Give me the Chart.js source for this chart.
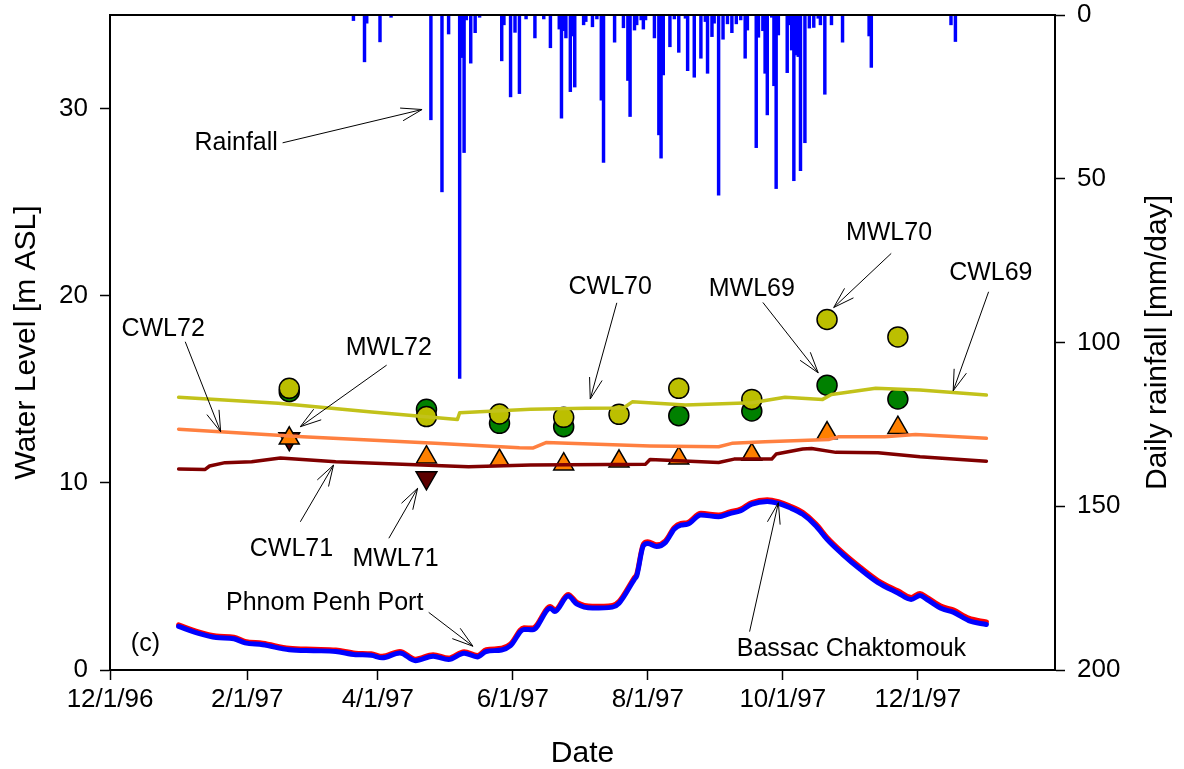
<!DOCTYPE html>
<html>
<head>
<meta charset="utf-8">
<script src="https://cdn.jsdelivr.net/npm/chart.js@4.4.1/dist/chart.umd.min.js"></script>
<style>
  html, body { margin: 0; padding: 0; background: #fff; }
  #wrap { width: 1184px; height: 769px; position: relative; }
</style>
</head>
<body>
<div id="wrap"><canvas id="chart" width="1184" height="769"></canvas></div>
<script>
// ---- Axis ticks -------------------------------------------------------
const tickDates  = ['1996-12-01', '1997-02-01', '1997-04-01', '1997-06-01', '1997-08-01', '1997-10-01', '1997-12-01'];
const tickLabels = ['12/1/96', '2/1/97', '4/1/97', '6/1/97', '8/1/97', '10/1/97', '12/1/97'];
const levelTicks = [0, 10, 20, 30];
const rainTicks  = [0, 50, 100, 150, 200];

// ---- Daily rainfall [mm/day] -----------------------------------------
const rainDates = [
  '1997-03-21','1997-03-26','1997-03-27','1997-04-02','1997-04-07','1997-04-25','1997-04-30','1997-05-03',
  '1997-05-08','1997-05-09','1997-05-10','1997-05-11','1997-05-13','1997-05-15','1997-05-17','1997-05-27',
  '1997-05-28','1997-05-31','1997-06-02','1997-06-04','1997-06-07','1997-06-11','1997-06-15','1997-06-18',
  '1997-06-22','1997-06-23','1997-06-24','1997-06-25','1997-06-27','1997-06-28','1997-06-29','1997-07-03',
  '1997-07-04','1997-07-07','1997-07-09','1997-07-11','1997-07-12','1997-07-17','1997-07-21','1997-07-23',
  '1997-07-24','1997-07-26','1997-07-27','1997-07-29','1997-07-30','1997-07-31','1997-08-04','1997-08-06',
  '1997-08-07','1997-08-08','1997-08-11','1997-08-13','1997-08-15','1997-08-18','1997-08-19','1997-08-22',
  '1997-08-25','1997-08-27','1997-08-28','1997-08-30','1997-08-31','1997-09-02','1997-09-04','1997-09-06',
  '1997-09-08','1997-09-10','1997-09-12','1997-09-14','1997-09-15','1997-09-19','1997-09-20','1997-09-22',
  '1997-09-23','1997-09-24','1997-09-26','1997-09-27','1997-09-28','1997-09-29','1997-10-03','1997-10-04',
  '1997-10-05','1997-10-06','1997-10-07','1997-10-08','1997-10-09','1997-10-11','1997-10-13','1997-10-15',
  '1997-10-17','1997-10-18','1997-10-20','1997-10-23','1997-10-28','1997-11-09','1997-11-10','1997-12-16',
  '1997-12-18'
];
const rainMm = [
  1.7, 14.3, 2.5, 8.2, 0.7, 32, 54, 5.8,
  111, 13, 42, 1.5, 14.7, 5.4, 0.7, 14,
  3, 25, 5.3, 24, 1.2, 7, 1.2, 10,
  4.3, 31.5, 4.8, 7, 23.4, 6.4, 22, 3,
  2, 3.6, 1.2, 26, 45, 8.3, 3.9, 20,
  31, 4.6, 3, 1.5, 4.3, 1.5, 7, 36.6,
  43.7, 18.3, 9.7, 1.2, 11.4, 1, 17, 19,
  13.2, 2, 17.8, 6.6, 2.5, 55, 7.4, 2.7,
  5.4, 2.7, 1.5, 13.2, 4.6, 40.5, 6.8, 4.8,
  17.8, 30.5, 0.7, 21.6, 53, 6.1, 17.6, 3,
  10.7, 50.6, 12.2, 12.7, 47.5, 39, 4, 3.8,
  1, 3, 24.2, 3, 8.3, 6.4, 16, 3,
  8.1
];

// ---- River stage [m ASL] ---------------------------------------------
const stageDates = [
  '1997-01-01','1997-01-10','1997-01-18','1997-01-26','1997-01-31','1997-02-08','1997-02-20','1997-03-03',
  '1997-03-13','1997-03-22','1997-03-29','1997-04-03','1997-04-11','1997-04-18','1997-04-26','1997-05-03',
  '1997-05-10','1997-05-16','1997-05-20','1997-05-27','1997-05-31','1997-06-06','1997-06-10','1997-06-18',
  '1997-06-20','1997-06-26','1997-06-30','1997-07-07','1997-07-16','1997-07-19','1997-07-26','1997-07-27',
  '1997-07-30','1997-08-01','1997-08-05','1997-08-09','1997-08-13','1997-08-16','1997-08-19','1997-08-25',
  '1997-09-02','1997-09-07','1997-09-12','1997-09-17','1997-09-24','1997-09-29','1997-10-04','1997-10-10',
  '1997-10-16','1997-10-21','1997-10-28','1997-11-05','1997-11-13','1997-11-22','1997-11-28','1997-12-02',
  '1997-12-05','1997-12-12','1997-12-17','1997-12-24','1998-01-01'
];
const bassacLevel = [
  2.33, 1.96, 1.74, 1.67, 1.45, 1.35, 1.08, 1.03,
  0.99, 0.82, 0.79, 0.65, 0.91, 0.50, 0.74, 0.56,
  0.90, 0.70, 0.99, 1.07, 1.30, 2.17, 2.15, 3.30,
  3.12, 3.95, 3.52, 3.31, 3.36, 3.57, 4.86, 5.03,
  6.64, 6.76, 6.60, 6.82, 7.53, 7.74, 7.79, 8.28,
  8.19, 8.36, 8.51, 8.86, 9.01, 8.90, 8.68, 8.32,
  7.70, 6.98, 6.18, 5.38, 4.67, 4.12, 3.77, 3.98,
  3.78, 3.27, 3.09, 2.64, 2.43
];
const portLevel = [
  2.41, 2.04, 1.82, 1.75, 1.53, 1.43, 1.16, 1.11,
  1.07, 0.90, 0.87, 0.73, 0.99, 0.58, 0.82, 0.64,
  0.98, 0.78, 1.08, 1.16, 1.39, 2.26, 2.24, 3.39,
  3.21, 4.04, 3.61, 3.40, 3.45, 3.66, 4.95, 5.12,
  6.73, 6.85, 6.69, 6.91, 7.62, 7.83, 7.88, 8.37,
  8.28, 8.45, 8.60, 8.95, 9.10, 8.99, 8.77, 8.42,
  7.80, 7.08, 6.28, 5.49, 4.78, 4.23, 3.88, 4.09,
  3.89, 3.39, 3.21, 2.77, 2.57
];

// ---- Computed water levels [m ASL] -----------------------------------
const cwl70Dates = ['1997-01-01','1997-02-15','1997-03-28','1997-05-07','1997-05-08','1997-06-09','1997-07-04','1997-07-21',
                    '1997-07-25','1997-08-18','1997-09-17','1997-10-02','1997-10-19','1997-10-23','1997-11-12','1997-12-02','1998-01-01'];
const cwl70 = [14.57, 14.25, 13.80, 13.39, 13.75, 13.93, 13.98, 14.00, 14.33, 14.16, 14.28, 14.57, 14.46, 14.72, 15.05, 14.96, 14.69];

const cwl72Dates = ['1997-01-01','1997-02-26','1997-04-27','1997-06-04','1997-06-10','1997-06-16','1997-08-02','1997-09-02',
                    '1997-09-08','1997-09-23','1997-10-22','1997-10-26','1997-11-16','1997-11-30','1998-01-01'];
const cwl72 = [12.87, 12.46, 12.11, 11.88, 11.86, 12.15, 11.97, 11.93, 12.11, 12.20, 12.32, 12.46, 12.46, 12.59, 12.38];

const cwl71Dates = ['1997-01-01','1997-01-13','1997-01-15','1997-01-22','1997-02-03','1997-02-16','1997-03-13','1997-04-12',
                    '1997-05-12','1997-06-09','1997-07-31','1997-08-02','1997-09-02','1997-09-09','1997-09-26','1997-09-28',
                    '1997-10-10','1997-10-14','1997-10-25','1997-11-13','1997-12-02','1998-01-01'];
const cwl71 = [10.74, 10.72, 10.90, 11.08, 11.13, 11.33, 11.13, 10.99, 10.86, 10.95, 11.00, 11.25, 11.09, 11.27, 11.27, 11.54,
               11.81, 11.84, 11.63, 11.61, 11.39, 11.16];

// ---- Measured water levels [m ASL] -----------------------------------
const mwlDates = ['1997-02-20','1997-04-23','1997-05-26','1997-06-24','1997-07-19','1997-08-15','1997-09-17','1997-10-21','1997-11-22'];
const mwl70 = [15.05, 13.54, 13.68, 13.50, 13.66, 15.05, 14.46, 18.73, 17.80];
const mwl69 = [14.87, 13.93, 13.18, 13.00, null, 13.59, 13.84, 15.22, 14.48];
const mwl72 = [12.38, 11.37, 11.19, 11.00, 11.15, 11.32, 11.51, 12.66, 12.95];
const mwl71Dates = ['1997-02-20','1997-04-23'];
const mwl71 = [12.36, 10.27];

// ---- Helpers ----------------------------------------------------------
const ORIGIN = Date.UTC(1996, 11, 1);
const day = s => (Date.parse(s + 'T00:00:00Z') - ORIGIN) / 86400000;
const pts = (dates, vals) => dates.map((d, i) => ({ x: day(d), y: vals[i] }));

const FONT = '"Liberation Sans", Arial, Helvetica, sans-serif';
Chart.defaults.font.family = FONT;
Chart.defaults.color = '#000';

// Callout labels with arrows, placed in data units (date, water level)
const callouts = [
  { text: 'Rainfall',          at: ['1997-01-27', 27.78], from: ['1997-02-17', 28.17], to: ['1997-04-21', 29.95] },
  { text: 'CWL72',             at: ['1996-12-25', 17.84], from: ['1997-01-04', 17.54], to: ['1997-01-20', 12.73] },
  { text: 'MWL72',             at: ['1997-04-06', 16.83], from: ['1997-04-05', 16.29], to: ['1997-02-25', 13.00] },
  { text: 'CWL71',             at: ['1997-02-21', 6.09],  from: ['1997-02-25', 7.92],  to: ['1997-03-12', 10.95] },
  { text: 'MWL71',             at: ['1997-04-09', 5.56],  from: ['1997-04-06', 7.04],  to: ['1997-04-19', 9.71] },
  { text: 'CWL70',             at: ['1997-07-15', 20.09], from: ['1997-07-18', 19.62], to: ['1997-07-06', 14.48] },
  { text: 'MWL69',             at: ['1997-09-17', 19.98], from: ['1997-09-22', 19.64], to: ['1997-10-17', 15.88] },
  { text: 'MWL70',             at: ['1997-11-18', 22.97], from: ['1997-11-19', 22.26], to: ['1997-10-24', 19.37] },
  { text: 'CWL69',             at: ['1998-01-03', 20.83], from: ['1998-01-02', 20.21], to: ['1997-12-17', 14.92] },
  { text: 'Phnom Penh Port',   at: ['1997-03-08', 3.21],  from: ['1997-04-24', 3.08],  to: ['1997-05-14', 1.27] },
  { text: 'Bassac Chaktomouk', at: ['1997-11-01', 0.75],  from: ['1997-09-16', 2.05],  to: ['1997-09-29', 8.94] },
  { text: '(c)',               at: ['1996-12-17', 1.01] }
];

const decorations = {
  id: 'decorations',
  afterDraw(chart) {
    const { ctx, chartArea: a, scales } = chart;
    const px = p => [scales.x.getPixelForValue(day(p[0])), scales.y.getPixelForValue(p[1])];
    ctx.save();

    // frame top edge
    ctx.strokeStyle = '#000';
    ctx.lineWidth = 2;
    ctx.beginPath();
    ctx.moveTo(a.left - 1, a.top);
    ctx.lineTo(a.right + 1, a.top);
    ctx.stroke();

    // callouts
    ctx.fillStyle = '#000';
    ctx.font = '25px ' + FONT;
    ctx.textAlign = 'center';
    ctx.textBaseline = 'alphabetic';
    ctx.lineWidth = 1;
    for (const c of callouts) {
      const [tx, ty] = px(c.at);
      ctx.fillText(c.text, tx, ty);
      if (!c.from) continue;
      const [x1, y1] = px(c.from);
      const [x2, y2] = px(c.to);
      const ang = Math.atan2(y1 - y2, x1 - x2);
      const len = 22, spread = 0.3;
      ctx.beginPath();
      ctx.moveTo(x1, y1);
      ctx.lineTo(x2, y2);
      ctx.moveTo(x2 + len * Math.cos(ang + spread), y2 + len * Math.sin(ang + spread));
      ctx.lineTo(x2, y2);
      ctx.lineTo(x2 + len * Math.cos(ang - spread), y2 + len * Math.sin(ang - spread));
      ctx.stroke();
    }

    // axis titles
    ctx.font = '30px ' + FONT;
    const midY = (a.top + a.bottom) / 2;
    ctx.save();
    ctx.translate(35, midY);
    ctx.rotate(-Math.PI / 2);
    ctx.fillText('Water Level [m ASL]', 0, 0);
    ctx.restore();
    ctx.save();
    ctx.translate(1166, midY);
    ctx.rotate(-Math.PI / 2);
    ctx.fillText('Daily rainfall [mm/day]', 0, 0);
    ctx.restore();
    ctx.fillText('Date', (a.left + a.right) / 2, 762);

    ctx.restore();
  }
};

const tickGrid = { display: true, offset: false, drawOnChartArea: false, drawTicks: true, tickLength: 10, tickWidth: 1.5, tickColor: '#000' };
const axisBorder = { display: true, color: '#000', width: 2 };
const tickFont = { size: 26 };

const lineSeries = (label, data, color, width, order) => ({
  label, data, borderColor: color, backgroundColor: color, borderWidth: width,
  pointRadius: 0, tension: 0, yAxisID: 'y', order, borderJoinStyle: 'round', borderCapStyle: 'round'
});
const markerSeries = (label, data, style, radius, fill, order, rotation) => ({
  label, data, showLine: false, pointStyle: style, pointRadius: radius, pointRotation: rotation || 0,
  pointBackgroundColor: fill, pointBorderColor: '#000', pointBorderWidth: 1.5, yAxisID: 'y', order
});

new Chart(document.getElementById('chart'), {
  type: 'line',
  data: {
    datasets: [
      { type: 'bar', label: 'Rainfall', data: pts(rainDates, rainMm), yAxisID: 'yRain',
        backgroundColor: '#0000ff', borderWidth: 0, barThickness: 2.8, order: 30 },
      markerSeries('MWL71', pts(mwl71Dates, mwl71), 'triangle', 12, '#5c0000', 20, 180),
      markerSeries('MWL72', pts(mwlDates, mwl72), 'triangle', 11.5, '#ff8000', 19),
      markerSeries('MWL69', pts(mwlDates, mwl69), 'circle', 10, '#008000', 18),
      markerSeries('MWL70', pts(mwlDates, mwl70), 'circle', 10, '#bcbf00', 17),
      lineSeries('CWL71', pts(cwl71Dates, cwl71), '#800000', 3.5, 15),
      lineSeries('CWL72', pts(cwl72Dates, cwl72), '#ff8040', 3.5, 14),
      lineSeries('CWL70', pts(cwl70Dates, cwl70), '#c2c21a', 3.5, 13),
      Object.assign(lineSeries('Phnom Penh Port', pts(stageDates, portLevel), '#ff0000', 5, 12), { cubicInterpolationMode: 'monotone' }),
      Object.assign(lineSeries('Bassac Chaktomouk', pts(stageDates, bassacLevel), '#0000ff', 5, 11), { cubicInterpolationMode: 'monotone' })
    ]
  },
  options: {
    responsive: false,
    animation: false,
    devicePixelRatio: 1,
    events: [],
    layout: { padding: { top: 15, left: 0, right: 0, bottom: 0 } },
    plugins: { legend: { display: false }, tooltip: { enabled: false }, title: { display: false } },
    scales: {
      x: {
        type: 'linear', min: 0, max: day('1998-02-01'), offset: false,
        afterBuildTicks: s => { s.ticks = tickDates.map(d => ({ value: day(d) })); },
        afterFit: s => { s.height = 99; s.paddingLeft = 0; s.paddingRight = 0; },
        ticks: { autoSkip: false, maxRotation: 0, padding: 4, font: tickFont, color: '#000',
                 callback: (v, i) => tickLabels[i] },
        grid: tickGrid, border: axisBorder
      },
      y: {
        type: 'linear', position: 'left', min: 0, max: 35,
        afterBuildTicks: s => { s.ticks = levelTicks.map(v => ({ value: v })); },
        afterFit: s => { s.width = 110; s.paddingTop = 0; s.paddingBottom = 0; },
        ticks: { padding: 12, font: tickFont, color: '#000' },
        grid: tickGrid, border: axisBorder
      },
      yRain: {
        type: 'linear', position: 'right', reverse: true, min: 0, max: 200,
        afterBuildTicks: s => { s.ticks = rainTicks.map(v => ({ value: v })); },
        afterFit: s => { s.width = 129; s.paddingTop = 0; s.paddingBottom = 0; },
        ticks: { padding: 12, font: tickFont, color: '#000' },
        grid: tickGrid, border: axisBorder
      }
    }
  },
  plugins: [decorations]
});
</script>
</body>
</html>
